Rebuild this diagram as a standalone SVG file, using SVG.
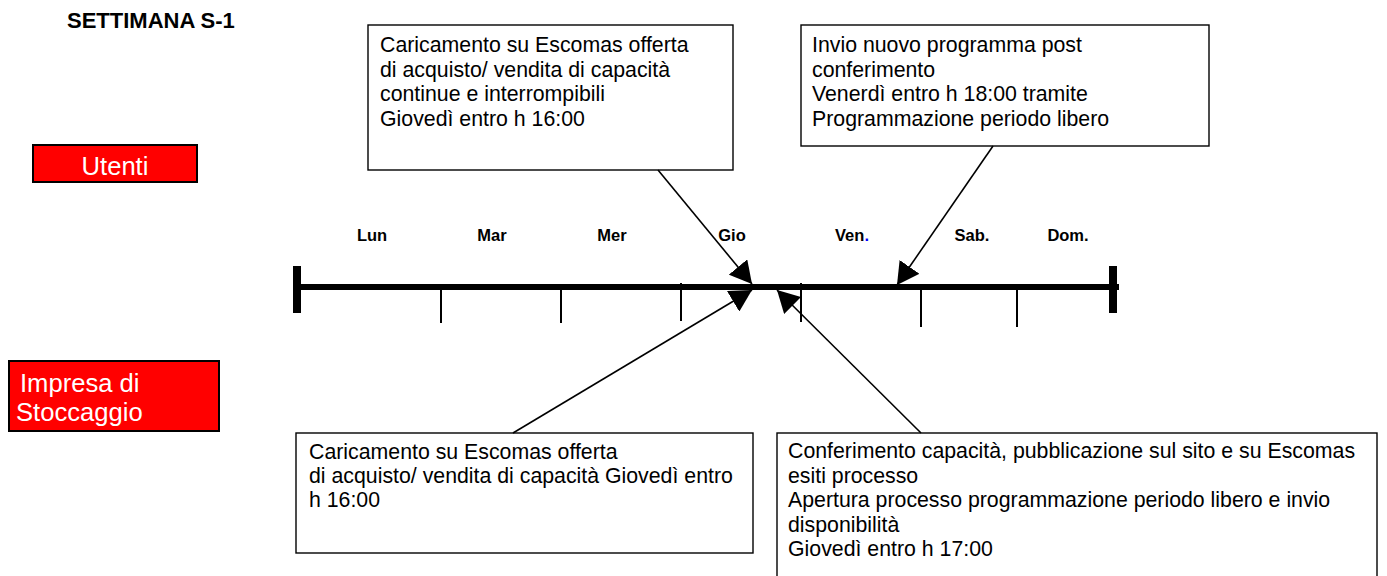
<svg xmlns="http://www.w3.org/2000/svg" width="1387" height="576" viewBox="0 0 1387 576">
<style>
.t{font-family:"Liberation Sans",Arial,sans-serif;font-size:21.3px;fill:#000}
.w{font-family:"Liberation Sans",Arial,sans-serif;font-size:25.6px;fill:#fff}
.d{font-family:"Liberation Sans",Arial,sans-serif;font-size:16.5px;font-weight:bold;fill:#000;text-anchor:middle}
.box{fill:#fff;stroke:#000;stroke-width:1.4}
.red{fill:#f00;stroke:#000;stroke-width:2}
.tick{stroke:#000;stroke-width:2}
.conn{stroke:#000;stroke-width:1.6;fill:none;marker-end:url(#ah)}
</style>
<defs>
<marker id="ah" markerUnits="userSpaceOnUse" markerWidth="22" markerHeight="24" refX="22" refY="12" orient="auto">
<path d="M0,0 L22,12 L0,24 z" fill="#000"/>
</marker>
</defs>
<rect width="1387" height="576" fill="#fff"/>
<text x="67" y="28" class="t" style="font-weight:bold;font-size:22px">SETTIMANA S-1</text>

<g id="utenti">
<rect x="33" y="145" width="164" height="37" class="red"/>
<text x="115" y="175" class="w" text-anchor="middle">Utenti</text>
</g>
<g id="impresa">
<rect x="9" y="361" width="210" height="70" class="red"/>
<text class="w"><tspan x="20" y="392">Impresa di</tspan><tspan x="16" y="421">Stoccaggio</tspan></text>
</g>

<g id="timeline">
<line x1="298" y1="287" x2="1119" y2="287" stroke="#000" stroke-width="6"/>
<rect x="293" y="266" width="8" height="47" fill="#000"/>
<rect x="1109" y="266" width="8" height="47" fill="#000"/>
<line x1="441" y1="289" x2="441" y2="323" class="tick"/>
<line x1="561" y1="289" x2="561" y2="323" class="tick"/>
<line x1="681" y1="283" x2="681" y2="321" class="tick"/>
<line x1="801" y1="283" x2="801" y2="322" class="tick"/>
<line x1="921" y1="289" x2="921" y2="327" class="tick"/>
<line x1="1017" y1="289" x2="1017" y2="327" class="tick"/>
<text x="372" y="241" class="d">Lun</text>
<text x="492" y="241" class="d">Mar</text>
<text x="612" y="241" class="d">Mer</text>
<text x="732" y="241" class="d">Gio</text>
<text x="852" y="241" class="d">Ven<tspan fill="#00f">.</tspan></text>
<text x="972" y="241" class="d">Sab.</text>
<text x="1068" y="241" class="d">Dom.</text>
</g>

<g id="box1">
<rect x="368" y="25" width="365" height="145" class="box"/>
<text class="t"><tspan x="380" y="52">Caricamento su Escomas offerta</tspan><tspan x="380" y="76.5">di acquisto/ vendita di capacità</tspan><tspan x="380" y="101">continue e interrompibili</tspan><tspan x="380" y="125.5">Giovedì entro h 16:00</tspan></text>
</g>
<g id="box2">
<rect x="801" y="25" width="408" height="121" class="box"/>
<text class="t"><tspan x="812" y="52">Invio nuovo programma post</tspan><tspan x="812" y="76.5">conferimento</tspan><tspan x="812" y="101">Venerdì entro h 18:00 tramite</tspan><tspan x="812" y="125.5">Programmazione periodo libero</tspan></text>
</g>
<g id="box3">
<rect x="296" y="433" width="457" height="120" class="box"/>
<text class="t"><tspan x="309" y="459">Caricamento su Escomas offerta</tspan><tspan x="309" y="483">di acquisto/ vendita di capacità Giovedì entro</tspan><tspan x="309" y="507">h 16:00</tspan></text>
</g>
<g id="box4">
<rect x="777" y="433" width="600" height="160" class="box"/>
<text class="t"><tspan x="788" y="458">Conferimento capacità, pubblicazione sul sito e su Escomas</tspan><tspan x="788" y="482.5">esiti processo</tspan><tspan x="788" y="507">Apertura processo programmazione periodo libero e invio</tspan><tspan x="788" y="531.5">disponibilità</tspan><tspan x="788" y="556">Giovedì entro h 17:00</tspan></text>
</g>

<g id="connectors">
<line x1="658" y1="170" x2="752" y2="284" class="conn"/>
<line x1="993" y1="146" x2="897" y2="285" class="conn"/>
<line x1="513" y1="433" x2="752" y2="290" class="conn"/>
<line x1="921" y1="433" x2="777" y2="290" class="conn"/>
</g>
</svg>
